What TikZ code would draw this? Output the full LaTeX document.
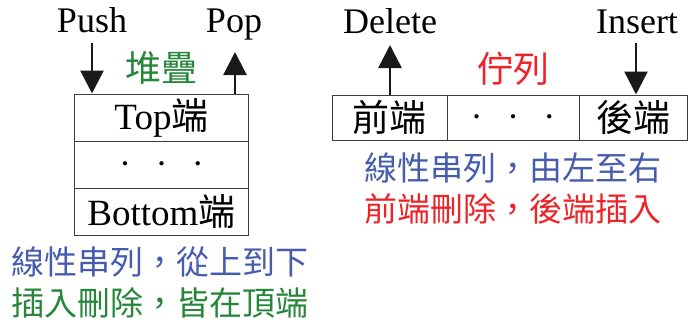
\documentclass[tikz,border=0pt]{standalone}
\usepackage{fontspec}
\setmainfont{Liberation Serif}
\newfontfamily\cjk{Noto Sans CJK TC}
\usetikzlibrary{arrows.meta}
\definecolor{cblue}{RGB}{70,92,172}
\definecolor{cgreen}{RGB}{38,134,58}
\definecolor{cred}{RGB}{236,36,40}
\definecolor{cline}{RGB}{60,60,60}
\tikzset{
  big/.style={font=\fontsize{36}{40}\selectfont, inner sep=0pt},
  cell/.style={draw=cline, line width=1pt, inner sep=0pt, font=\fontsize{37}{40}\selectfont},
  note/.style={font=\fontsize{33}{38}\selectfont\cjk, inner sep=0pt},
  title/.style={font=\fontsize{36}{40}\selectfont\cjk, inner sep=0pt},
  arr/.style={line width=2.5pt, -{Triangle[width=23pt,length=23pt]}, black!90}
}
\newcommand{\onedot}{{\fontsize{11}{11}\selectfont$\bullet$}}
\newcommand{\threedots}{\onedot\hspace{31pt}\onedot\hspace{31pt}\onedot}
\begin{document}
\begin{tikzpicture}[x=1pt,y=-1pt]
\useasboundingbox (0,0) rectangle (688,324);
% stack
\node[cell, minimum width=174pt, minimum height=47pt] (top) at (161.5,117.5) {Top{\cjk 端}};
\node[cell, minimum width=174pt, minimum height=47pt] (mid) at (161.5,164.5) {\threedots};
\node[cell, minimum width=174pt, minimum height=47pt] (bot) at (161.5,211.5) {Bottom{\cjk 端}};
\node[big, anchor=base] (push) at (92,32) {Push};
\node[big, anchor=base] (pop) at (234,32) {Pop};
\node[title, text=cgreen] (stk) at (161,68) {堆疊};
\coordinate (pushs) at (92,43);
\coordinate (popt) at (235,52);
\draw[arr] (pushs) -- (pushs |- top.north);
\draw[arr] (popt |- top.north) -- (popt);
\node[note, text=cblue] (s1) at (160,262) {線性串列，從上到下};
\node[note, text=cgreen] (s2) at (160,303) {插入刪除，皆在頂端};
% queue
\node[cell, minimum width=115pt, minimum height=45pt] (front) at (389.5,117.5) {\cjk 前端};
\node[cell, minimum width=132pt, minimum height=45pt] (qmid) at (513,117.5) {\threedots};
\node[cell, minimum width=108pt, minimum height=45pt] (rear) at (633,117.5) {\cjk 後端};
\node[big, anchor=base] (del) at (390,33) {Delete};
\node[big, anchor=base] (ins) at (637,33) {Insert};
\node[title, text=cred] (que) at (513,69) {佇列};
\coordinate (delt) at (390,45);
\coordinate (inss) at (636,43);
\draw[arr] (delt |- front.north) -- (delt);
\draw[arr] (inss) -- (inss |- rear.north);
\node[note, text=cblue] (q1) at (513,168) {線性串列，由左至右};
\node[note, text=cred] (q2) at (513,209) {前端刪除，後端插入};
\end{tikzpicture}
\end{document}
